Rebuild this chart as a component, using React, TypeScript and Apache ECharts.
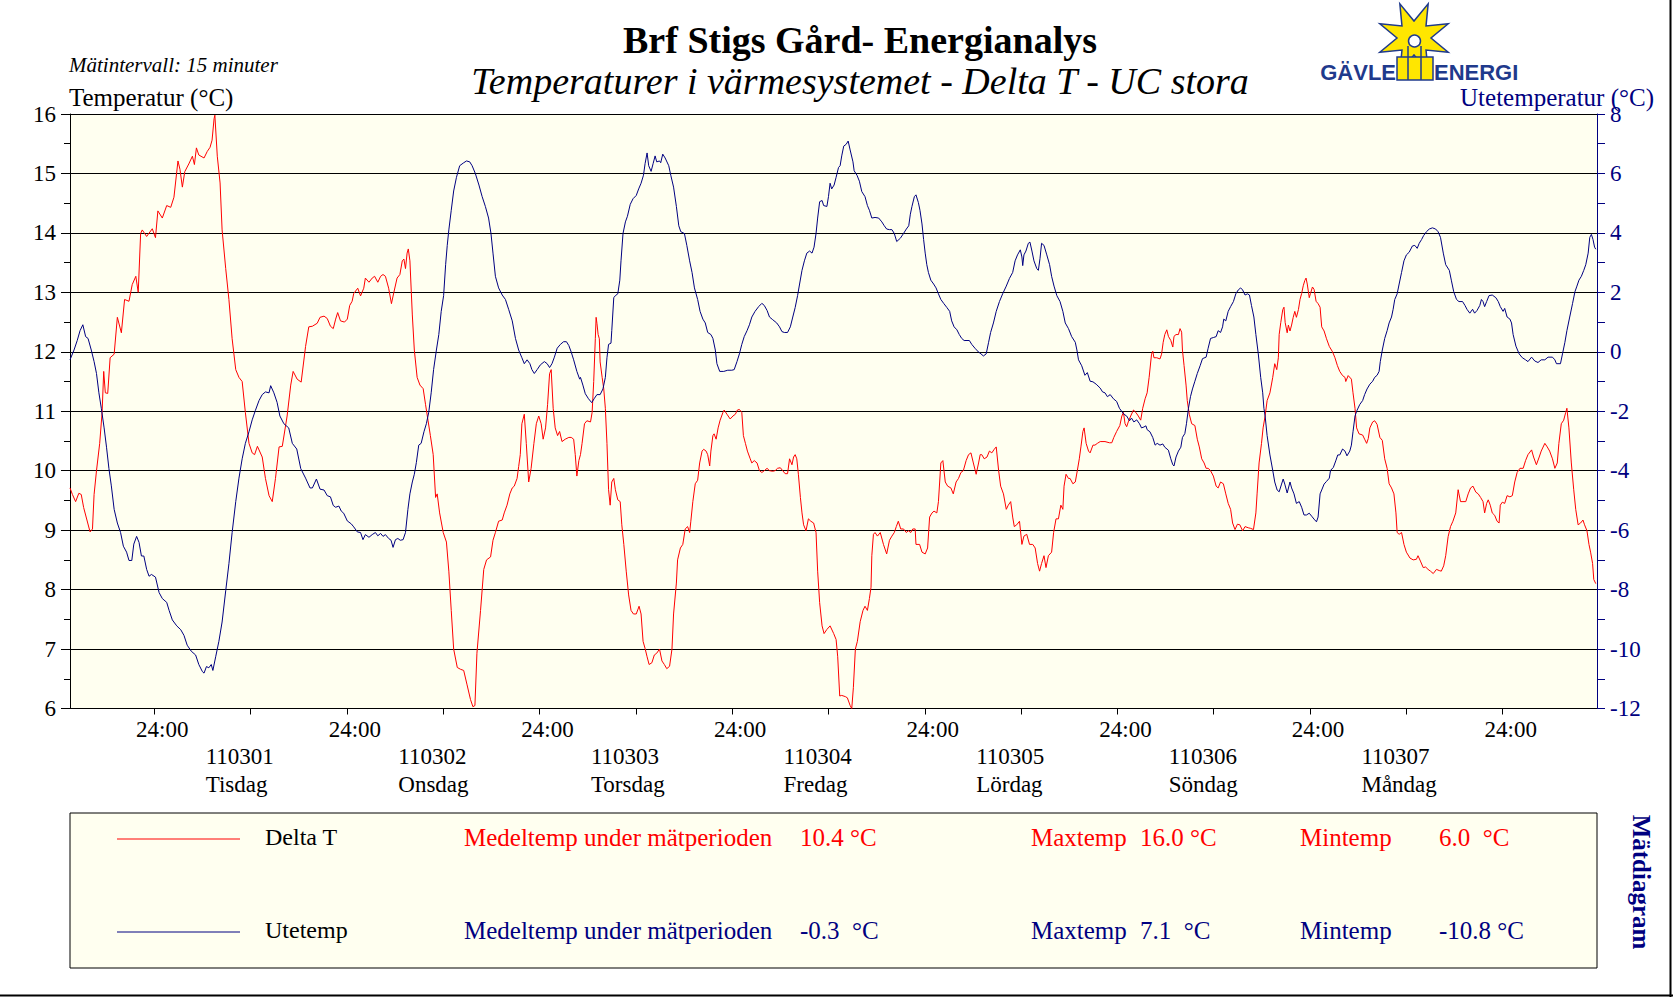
import React, { useEffect, useRef } from "react";
import * as echarts from "echarts";

// Time in hours relative to 110301 00:00 (the first "24:00" tick), value in °C
const deltaT: [number, number][] = [
  [-10.5,9.71],[-10.2,9.6],[-9.8,9.48],[-9.4,9.62],[-9.1,9.6],[-8.8,9.38],[-8.0,8.97],[-7.7,9.02],[-7.5,9.6],[-7.2,10.0],[-6.8,10.46],[-6.5,10.98],[-6.3,11.67],[-6.1,11.31],[-5.8,11.3],[-5.5,11.9],[-5.0,11.96],[-4.6,12.58],[-4.1,12.32],[-3.7,12.88],[-3.15,12.85],[-2.75,13.13],[-2.3,13.27],[-2.0,13.0],[-1.7,13.99],[-1.5,14.05],[-0.95,13.94],[-0.25,14.07],[0.15,13.92],[0.45,14.37],[1.0,14.25],[1.55,14.46],[2.05,14.43],[2.45,14.6],[2.95,15.21],[3.2,15.07],[3.5,14.77],[3.8,15.03],[4.3,15.16],[4.75,15.29],[5.0,15.15],[5.25,15.43],[5.55,15.31],[6.2,15.26],[6.6,15.37],[6.95,15.44],[7.2,15.56],[7.45,15.92],[7.55,15.98],[7.85,15.29],[8.2,14.84],[8.45,14.05],[8.9,13.4],[9.3,12.88],[9.7,12.22],[10.15,11.7],[10.55,11.57],[10.95,11.5],[11.35,10.98],[11.8,10.46],[12.2,10.3],[12.5,10.27],[12.85,10.41],[13.45,10.23],[13.85,9.87],[14.3,9.58],[14.7,9.48],[15.1,9.87],[15.55,10.4],[15.95,10.41],[16.55,10.92],[17.0,11.44],[17.3,11.67],[17.8,11.54],[18.3,11.49],[18.85,12.09],[19.25,12.42],[19.7,12.43],[20.3,12.48],[20.65,12.58],[21.15,12.6],[21.55,12.56],[21.95,12.43],
  [22.3,12.39],[22.6,12.55],[22.85,12.66],[23.2,12.52],[23.7,12.5],[24.05,12.55],[24.35,12.78],[24.65,12.85],[24.85,12.98],[25.35,13.07],[25.7,12.94],[26.1,13.07],[26.3,13.24],[26.75,13.17],[27.15,13.24],[27.45,13.27],[27.85,13.17],[28.2,13.27],[28.5,13.3],[28.8,13.27],[29.2,13.07],[29.55,12.81],[29.85,13.0],[30.25,13.24],[30.6,13.3],[30.9,13.53],[31.1,13.56],[31.3,13.4],[31.5,13.66],[31.65,13.73],[31.85,13.53],[32.15,12.62],[32.4,12.03],[32.75,11.57],[33.1,11.44],[33.5,11.38],[33.8,11.11],[34.1,10.85],[34.4,10.59],[34.75,10.27],[35.05,9.55],[35.25,9.61],[35.55,9.29],[36.0,8.96],[36.4,8.8],[36.7,8.31],[37.0,7.65],[37.3,7.0],[37.75,6.69],[38.15,6.66],[38.55,6.64],[38.95,6.41],[39.4,6.15],[39.7,6.03],[39.95,6.05],[40.2,6.93],[40.65,7.65],[41.05,8.34],[41.4,8.5],[41.9,8.55],[42.2,8.83],[42.5,8.96],[42.9,9.15],[43.35,9.17],[43.6,9.29],[43.95,9.42],[44.3,9.61],[44.6,9.71],[44.85,9.74],[45.2,9.87],[45.4,10.07],[45.6,10.27],[45.8,10.79],[46.1,10.95],[46.35,10.46],[46.65,9.81],[46.95,10.04],[47.3,10.46],[47.6,10.79],[47.9,10.92],[48.2,10.79],[48.45,10.53],[48.75,10.72],[49.0,11.11],[49.25,11.63],[49.45,11.7],[49.7,11.05],[49.95,10.72],[50.25,10.59],[50.5,10.66],[50.8,10.49],[51.2,10.53],[51.65,10.56],[51.95,10.56],[52.25,10.53],[52.45,10.27],[52.65,9.91],[52.9,10.17],
  [53.1,10.27],[53.3,10.46],[53.6,10.79],[53.9,10.84],[54.35,10.82],[54.55,10.98],[54.75,11.5],[54.95,12.22],[55.05,12.58],[55.15,12.48],[55.3,12.29],[55.45,12.22],[55.55,11.83],[55.8,11.57],[56.0,11.38],[56.2,11.05],[56.4,10.46],[56.6,9.68],[56.8,9.42],[57.0,9.81],[57.25,9.87],[57.45,9.68],[57.75,9.51],[58.05,9.48],[58.25,9.09],[58.5,8.76],[58.8,8.31],[59.1,7.91],[59.4,7.65],[59.7,7.59],[60.05,7.59],[60.4,7.72],[60.65,7.59],[60.9,7.13],[61.15,7.01],[61.4,6.87],[61.65,6.74],[62.0,6.77],[62.3,6.9],[62.6,6.93],[62.95,7.0],[63.25,6.8],[63.55,6.74],[63.85,6.67],[64.2,6.71],[64.5,7.0],[64.7,7.59],[65.05,8.11],[65.2,8.5],[65.55,8.7],[65.85,8.76],[66.15,9.02],[66.45,9.06],[66.7,8.96],[66.85,9.15],[67.1,9.48],[67.4,9.78],[67.7,9.84],[67.95,10.13],[68.25,10.33],[68.45,10.36],[68.75,10.33],[68.95,10.27],[69.2,10.08],[69.35,10.33],[69.6,10.59],[69.75,10.62],[70.0,10.53],[70.25,10.72],[70.5,10.85],[70.85,10.98],[71.0,11.02],[71.35,10.95],[71.75,10.87],[72.1,10.92],[72.4,10.95],[72.65,11.02],[72.9,11.03],[73.2,10.98],[73.4,10.59],[73.65,10.46],[73.9,10.33],[74.25,10.2],[74.45,10.13],[74.75,10.17],[75.1,10.13],[75.4,10.0],[75.7,9.97],[76.0,10.0],[76.35,10.04],[76.65,10.0],[77.05,9.99],[77.35,10.0],[77.65,10.04],[78.0,10.05],[78.3,10.0],[78.6,9.95],[78.9,9.95],[79.15,10.2],[79.45,10.1],[79.65,10.23],[79.85,10.27],[80.05,10.2],[80.25,9.94],[80.5,9.55],[80.7,9.29],[80.9,9.09],[81.2,8.99],[81.5,9.19],[81.8,9.15],[82.15,9.12],[82.45,8.96],[82.65,8.31],[82.9,7.78],[83.2,7.39],[83.45,7.26],[83.8,7.33],[84.2,7.39],[84.65,7.26],[84.95,7.16],[85.15,6.87],[85.4,6.21],
  [85.65,6.22],[86.1,6.2],[86.35,6.18],[86.7,6.05],[86.9,6.0],[87.1,6.35],[87.35,7.0],[87.6,7.13],[87.95,7.46],[88.3,7.65],[88.55,7.72],[88.85,7.65],[89.1,7.85],[89.3,8.04],[89.4,8.57],[89.6,8.93],[89.8,8.96],[90.1,8.9],[90.45,8.96],[90.85,8.76],[91.25,8.6],[91.6,8.83],[91.9,8.9],[92.2,8.96],[92.45,9.06],[92.7,9.15],[93.0,9.02],[93.35,9.02],[93.7,8.96],[93.95,8.99],[94.25,8.96],[94.5,9.02],[94.8,9.02],[94.9,8.76],[95.35,8.76],[95.65,8.63],[96.05,8.6],[96.35,8.7],[96.6,9.22],[96.9,9.29],[97.15,9.32],[97.5,9.29],[97.7,9.48],[98.0,10.13],[98.25,10.17],[98.55,9.81],[98.85,9.74],[99.25,9.71],[99.55,9.61],[99.9,9.81],[100.2,9.87],[100.5,9.97],[100.8,10.0],[101.15,10.17],[101.45,10.27],[101.75,10.3],[102.05,10.13],[102.4,9.94],[102.7,10.13],[102.9,10.27],[103.1,10.27],[103.4,10.2],[103.75,10.23],[104.05,10.33],[104.35,10.3],[104.65,10.36],[104.9,10.4],[105.2,10.0],[105.45,9.74],[105.8,9.61],[106.15,9.35],[106.4,9.42],[106.7,9.48],[106.95,9.22],[107.15,9.06],[107.45,9.09],[107.8,9.15],[108.1,8.76],[108.35,8.9],[108.7,8.93],[109.05,8.76],[109.45,8.76],[109.75,8.7],[110.05,8.44],[110.3,8.31],[110.55,8.44],[110.85,8.57],[111.1,8.37],[111.4,8.57],[111.8,8.63],[112.05,8.96],[112.35,9.19],[112.65,9.19],[112.95,9.42],[113.2,9.35],[113.35,9.74],[113.6,9.94],[113.9,9.87],[114.1,9.87],[114.45,9.78],[114.75,9.81],[115.0,10.0],[115.25,10.2],[115.45,10.4],[115.7,10.66],[115.85,10.72],[116.1,10.46],[116.4,10.33],[116.6,10.3],[116.95,10.43],[117.2,10.43],[117.5,10.46],
  [117.85,10.49],[118.45,10.49],[119.0,10.47],[119.3,10.47],[119.55,10.56],[119.9,10.66],[120.3,10.76],[120.55,10.92],[120.75,10.98],[120.95,10.79],[121.15,10.74],[121.35,10.82],[121.65,10.92],[122.0,11.02],[122.3,10.98],[122.6,10.92],[122.9,10.85],[123.15,11.05],[123.45,11.21],[123.7,11.31],[123.95,11.57],[124.25,11.96],[124.4,12.01],[124.55,11.9],[124.9,11.9],[125.3,11.88],[125.5,11.96],[125.7,12.16],[125.9,12.29],[126.15,12.37],[126.35,12.26],[126.65,12.19],[126.9,12.08],[127.05,12.26],[127.3,12.29],[127.6,12.29],[127.8,12.39],[128.0,12.33],[128.1,12.03],[128.3,11.77],[128.55,11.44],[128.7,11.18],[128.95,10.95],[129.25,10.79],[129.65,10.76],[129.95,10.53],[130.2,10.4],[130.5,10.2],[130.8,10.13],[131.05,10.04],[131.3,10.04],[131.6,10.0],[131.95,9.91],[132.3,9.74],[132.55,9.71],[132.85,9.81],[133.2,9.78],[133.5,9.61],[133.8,9.45],[134.1,9.35],[134.35,9.12],[134.65,9.01],[134.95,9.1],[135.25,9.09],[135.6,8.99],[135.9,9.06],[136.3,9.04],[136.6,9.03],[136.95,9.01],[137.25,9.29],[137.4,9.61],[137.65,10.13],[137.95,10.46],[138.15,10.72],[138.4,10.92],[138.65,11.18],[139.0,11.31],[139.35,11.57],[139.6,11.8],[139.85,11.7],[140.05,11.9],[140.15,12.29],[140.35,12.49],[140.6,12.71],[140.75,12.75],[140.9,12.49],[141.15,12.32],[141.3,12.45],[141.5,12.35],[141.7,12.45],[141.9,12.58],[142.1,12.68],[142.3,12.58],[142.55,12.71],[142.75,12.88],[142.95,12.98],[143.15,13.11],[143.35,13.2],[143.5,13.24],[143.65,13.14],[143.9,12.91],[144.05,12.98],[144.3,13.09],[144.5,13.05],[144.75,12.85],[145.0,12.81],[145.25,12.75],[145.45,12.42],[145.75,12.35],[146.05,12.22],[146.4,12.09],[146.8,12.0],[147.1,11.9],[147.4,11.77],
  [147.7,11.67],[148.05,11.6],[148.35,11.57],[148.45,11.5],[148.75,11.6],[149.15,11.54],[149.35,11.31],[149.6,11.05],[149.8,10.72],[150.1,10.62],[150.55,10.6],[150.8,10.53],[151.05,10.46],[151.25,10.54],[151.45,10.72],[151.8,10.82],[152.05,10.84],[152.35,10.78],[152.7,10.56],[153.0,10.51],[153.3,10.2],[153.6,10.04],[153.85,9.78],[154.15,9.71],[154.45,9.61],[154.7,9.29],[154.85,8.96],[155.1,8.93],[155.4,8.96],[155.7,8.76],[156.0,8.63],[156.45,8.53],[156.85,8.5],[157.25,8.51],[157.45,8.57],[157.75,8.48],[158.1,8.37],[158.4,8.38],[158.7,8.34],[159.0,8.31],[159.35,8.27],[159.75,8.34],[160.1,8.32],[160.35,8.31],[160.65,8.4],[160.9,8.57],[161.2,8.89],[161.5,9.06],[161.8,9.15],[162.15,9.29],[162.45,9.68],[162.55,9.61],[162.75,9.48],[163.05,9.48],[163.4,9.48],[163.7,9.61],[164.0,9.71],[164.3,9.74],[164.65,9.64],[164.95,9.61],[165.25,9.55],[165.55,9.48],[165.75,9.29],[166.0,9.45],[166.2,9.51],[166.45,9.42],[166.7,9.29],[167.0,9.25],[167.3,9.15],[167.55,9.12],[167.7,9.42],[167.95,9.47],[168.25,9.45],[168.55,9.58],[168.9,9.56],[169.2,9.58],[169.5,9.81],[169.8,9.97],[170.15,10.04],[170.55,10.04],[170.85,10.17],[171.15,10.27],[171.6,10.35],[171.85,10.23],[172.2,10.1],[172.55,10.23],[172.8,10.33],[173.25,10.46],[173.55,10.4],[173.85,10.33],[174.2,10.2],[174.5,10.04],[174.8,10.13],[175.0,10.46],[175.3,10.79],[175.6,10.85],[175.85,10.98],[176.0,11.05],[176.25,10.72],[176.55,10.13],[176.85,9.68],[177.1,9.35],[177.4,9.09],[177.7,9.12],[178.0,9.17],[178.2,9.09],[178.5,8.99],[178.75,8.76],[178.95,8.63],[179.2,8.44],[179.35,8.17],[179.6,8.1]
];

const utetemp: [number, number][] = [
  [-10.5,-0.27],[-10.0,0.06],[-9.6,0.38],[-9.25,0.71],[-8.9,0.91],[-8.55,0.51],[-8.25,0.45],[-7.85,0.06],[-7.5,-0.33],[-7.2,-0.73],[-6.9,-1.38],[-6.6,-1.9],[-6.25,-2.56],[-5.95,-3.21],[-5.65,-3.93],[-5.35,-4.51],[-5.0,-5.3],[-4.6,-5.76],[-4.2,-6.08],[-3.85,-6.54],[-3.45,-6.74],[-3.15,-7.02],[-2.8,-7.02],[-2.55,-6.47],[-2.2,-6.21],[-1.9,-6.41],[-1.6,-6.87],[-1.3,-6.87],[-0.95,-7.32],[-0.65,-7.55],[-0.35,-7.49],[0.15,-7.58],[0.6,-8.1],[1.0,-8.3],[1.55,-8.43],[1.85,-8.7],[2.25,-9.02],[2.8,-9.22],[3.3,-9.35],[3.7,-9.54],[4.1,-9.87],[4.6,-10.07],[5.15,-10.2],[5.55,-10.52],[6.0,-10.76],[6.2,-10.81],[6.5,-10.59],[6.8,-10.63],[7.1,-10.52],[7.3,-10.72],[7.65,-10.26],[8.05,-9.74],[8.45,-9.09],[8.9,-8.04],[9.3,-7.13],[9.7,-6.08],[10.15,-5.04],[10.55,-4.25],[10.95,-3.6],[11.35,-3.08],[11.8,-2.69],[12.2,-2.29],[12.6,-1.97],[13.05,-1.64],[13.45,-1.44],[13.85,-1.35],[14.3,-1.38],[14.5,-1.14],[14.9,-1.38],[15.3,-1.7],[15.65,-2.16],[16.15,-2.42],[16.75,-2.56],[17.2,-3.08],[17.75,-3.27],[18.25,-3.93],[18.85,-4.25],[19.4,-4.58],[19.7,-4.58],[20.2,-4.28],[20.65,-4.62],[21.15,-4.65],[21.55,-4.84],[21.95,-4.88],
  [22.3,-5.17],[22.6,-5.23],[23.0,-5.19],[23.3,-5.36],[23.6,-5.43],[24.05,-5.69],[24.55,-5.79],[24.85,-5.89],[25.3,-6.06],[25.7,-6.08],[26.0,-6.32],[26.3,-6.15],[26.75,-6.24],[27.15,-6.15],[27.55,-6.08],[27.85,-6.19],[28.2,-6.11],[28.5,-6.21],[28.8,-6.15],[29.2,-6.28],[29.5,-6.34],[29.75,-6.58],[30.05,-6.32],[30.35,-6.28],[30.65,-6.34],[31.0,-6.32],[31.3,-6.08],[31.6,-5.3],[31.85,-4.78],[32.15,-4.38],[32.4,-4.12],[32.65,-3.73],[32.95,-3.14],[33.25,-3.08],[33.6,-2.69],[33.9,-2.42],[34.2,-2.03],[34.5,-1.38],[34.8,-0.6],[35.15,0.06],[35.45,0.58],[35.75,1.36],[36.05,1.89],[36.3,2.93],[36.5,3.58],[36.7,4.1],[37.0,4.76],[37.3,5.41],[37.65,5.87],[38.05,6.26],[38.5,6.35],[38.9,6.42],[39.3,6.39],[39.6,6.26],[40.0,6.0],[40.45,5.61],[40.85,5.22],[41.25,4.89],[41.65,4.5],[41.95,3.98],[42.2,3.32],[42.5,2.54],[42.9,2.15],[43.35,1.91],[43.75,1.76],[44.15,1.43],[44.6,1.04],[45.0,0.45],[45.4,0.06],[45.8,-0.2],[46.1,-0.4],[46.45,-0.27],[46.8,-0.4],[47.05,-0.6],[47.35,-0.73],[47.7,-0.6],[48.1,-0.44],[48.6,-0.33],[48.95,-0.4],[49.25,-0.53],[49.55,-0.4],[49.85,-0.18],[50.2,0.12],[50.6,0.25],[51.0,0.34],[51.35,0.34],[51.65,0.21],[51.95,-0.01],[52.25,-0.27],[52.65,-0.66],[53.0,-0.92],
  [53.1,-0.86],[53.4,-1.12],[53.7,-1.41],[54.1,-1.58],[54.5,-1.71],[54.8,-1.58],[55.15,-1.44],[55.55,-1.44],[55.9,-1.25],[56.2,-0.86],[56.4,-0.2],[56.6,0.25],[56.9,0.29],[57.0,0.71],[57.25,1.82],[57.45,1.89],[57.75,1.95],[58.0,2.41],[58.15,3.06],[58.4,3.98],[58.7,4.37],[58.95,4.56],[59.3,4.96],[59.65,5.15],[60.05,5.26],[60.35,5.48],[60.65,5.67],[60.95,5.94],[61.15,6.33],[61.4,6.69],[61.6,6.26],[61.9,6.07],[62.15,6.33],[62.4,6.59],[62.6,6.39],[62.95,6.42],[63.1,6.36],[63.35,6.65],[63.65,6.52],[64.1,6.26],[64.35,5.94],[64.7,5.54],[65.05,4.89],[65.35,4.24],[65.6,4.04],[66.05,3.98],[66.35,3.58],[66.7,3.06],[67.0,2.67],[67.3,2.15],[67.7,1.76],[68.0,1.36],[68.35,1.1],[68.65,0.97],[68.95,0.65],[69.35,0.58],[69.6,0.45],[69.9,0.06],[70.1,-0.4],[70.45,-0.66],[70.95,-0.66],[71.45,-0.62],[71.95,-0.62],[72.25,-0.6],[72.6,-0.33],[72.9,-0.07],[73.2,0.25],[73.5,0.51],[73.85,0.71],[74.15,0.91],[74.45,1.17],[74.85,1.36],[75.3,1.52],[75.7,1.63],[76.0,1.56],[76.35,1.39],[76.65,1.17],[77.05,1.08],[77.55,0.97],[77.9,0.84],[78.2,0.68],[78.5,0.65],[78.9,0.65],[79.25,0.84],[79.55,1.17],[79.85,1.49],[80.15,1.89],[80.4,2.28],[80.7,2.74],[81.0,3.06],[81.3,3.32],[81.65,3.39],[81.95,3.32],[82.2,3.52],[82.45,3.98],[82.65,4.5],[82.9,5.05],[83.2,5.09],[83.4,4.92],[83.8,4.89],[84.0,5.22],[84.2,5.67],[84.4,5.48],[84.7,5.61],[84.95,5.87],[85.25,6.2],
  [85.45,6.26],[85.65,6.59],[85.9,6.92],[86.2,6.98],[86.45,7.09],[86.7,6.79],[87.05,6.39],[87.2,6.09],[87.55,5.94],[87.85,5.74],[88.15,5.39],[88.55,5.22],[88.85,4.92],[89.1,4.76],[89.4,4.5],[89.8,4.52],[90.25,4.5],[90.65,4.37],[90.95,4.24],[91.25,4.13],[91.6,4.11],[91.9,4.11],[92.2,3.98],[92.5,3.71],[92.95,3.82],[93.35,3.98],[93.7,4.13],[94.0,4.24],[94.2,4.63],[94.4,4.89],[94.7,5.22],[94.9,5.28],[95.2,5.02],[95.4,4.76],[95.65,4.3],[95.85,3.78],[96.05,3.32],[96.25,2.93],[96.45,2.67],[96.75,2.41],[97.1,2.28],[97.4,2.15],[97.7,1.95],[98.0,1.76],[98.35,1.63],[98.75,1.49],[99.1,1.36],[99.35,1.04],[99.65,0.84],[100.0,0.74],[100.3,0.58],[100.6,0.45],[100.9,0.38],[101.55,0.38],[101.85,0.25],[102.25,0.12],[102.7,-0.01],[103.0,-0.07],[103.3,-0.14],[103.65,-0.07],[103.95,0.32],[104.2,0.65],[104.55,0.97],[104.9,1.36],[105.3,1.69],[105.7,1.95],[106.15,2.21],[106.55,2.47],[106.95,2.67],[107.25,3.06],[107.55,3.26],[107.9,3.43],[108.1,3.19],[108.2,2.9],[108.35,3.26],[108.6,3.39],[108.9,3.65],[109.1,3.69],[109.35,3.39],[109.6,3.06],[109.95,2.8],[110.15,2.74],[110.35,3.13],[110.55,3.65],[110.85,3.58],[111.2,3.26],[111.55,2.93],[111.8,2.54],[112.1,2.21],[112.45,1.89],[112.85,1.69],[113.2,1.36],[113.5,0.97],[113.9,0.78],[114.3,0.51],[114.75,0.32],[114.95,0.06],[115.15,-0.27],[115.55,-0.47],[115.95,-0.79],[116.25,-0.7],[116.6,-0.99],[116.95,-1.01],[117.35,-1.09],
  [117.85,-1.22],[118.15,-1.35],[118.45,-1.38],[118.75,-1.51],[119.1,-1.44],[119.5,-1.58],[119.9,-1.67],[120.25,-1.9],[120.55,-2.01],[120.8,-2.1],[121.15,-2.16],[121.5,-2.32],[121.75,-2.23],[122.05,-2.36],[122.4,-2.29],[122.75,-2.42],[123.0,-2.56],[123.3,-2.53],[123.55,-2.49],[123.7,-2.62],[124.05,-2.69],[124.4,-2.88],[124.7,-3.14],[124.95,-3.08],[125.3,-3.14],[125.65,-3.1],[125.9,-3.21],[126.35,-3.31],[126.65,-3.6],[126.9,-3.8],[127.05,-3.84],[127.3,-3.54],[127.6,-3.34],[127.9,-3.21],[128.1,-2.88],[128.4,-2.75],[128.6,-2.42],[128.85,-1.9],[129.1,-1.51],[129.35,-1.25],[129.65,-0.99],[129.95,-0.73],[130.3,-0.47],[130.6,-0.23],[131.05,-0.18],[131.3,0.12],[131.6,0.45],[131.95,0.48],[132.3,0.51],[132.55,0.71],[132.85,0.65],[133.1,0.84],[133.25,1.1],[133.5,1.04],[133.8,1.36],[134.1,1.52],[134.45,1.69],[134.75,1.95],[135.05,2.08],[135.35,2.15],[135.6,2.08],[135.9,1.91],[136.2,1.95],[136.45,1.91],[136.7,1.56],[137.0,1.17],[137.25,0.58],[137.55,-0.07],[137.85,-0.86],[138.1,-1.38],[138.25,-1.9],[138.4,-2.16],[138.65,-2.82],[139.0,-3.47],[139.35,-3.99],[139.6,-4.38],[139.9,-4.65],[140.15,-4.71],[140.45,-4.45],[140.65,-4.28],[140.85,-4.45],[141.15,-4.75],[141.5,-4.38],[141.7,-4.58],[142.0,-4.78],[142.3,-5.1],[142.65,-5.04],[142.95,-5.23],[143.25,-5.49],[143.55,-5.49],[143.9,-5.43],[144.2,-5.53],[144.5,-5.63],[144.8,-5.72],[145.0,-5.56],[145.25,-4.78],[145.45,-4.65],[145.75,-4.45],[146.05,-4.36],[146.4,-4.25],[146.55,-3.99],[146.9,-3.89],[147.2,-3.67],[147.45,-3.47],
  [147.7,-3.47],[148.05,-3.27],[148.35,-3.34],[148.6,-3.5],[148.95,-3.34],[149.15,-3.14],[149.35,-2.69],[149.6,-2.16],[149.85,-1.97],[150.2,-1.77],[150.55,-1.64],[150.8,-1.44],[151.1,-1.25],[151.45,-1.09],[151.8,-0.99],[152.05,-0.86],[152.35,-0.79],[152.6,-0.66],[152.75,-0.33],[153.0,0.06],[153.3,0.45],[153.6,0.71],[153.85,0.97],[154.15,1.17],[154.35,1.43],[154.55,1.76],[154.85,1.95],[155.1,2.28],[155.4,2.67],[155.7,3.06],[156.0,3.26],[156.35,3.35],[156.75,3.56],[157.05,3.58],[157.35,3.48],[157.6,3.65],[157.9,3.78],[158.15,3.91],[158.5,4.04],[158.85,4.13],[159.25,4.17],[159.65,4.13],[159.95,4.04],[160.25,3.85],[160.6,3.32],[160.9,2.93],[161.35,2.74],[161.6,2.41],[161.9,2.02],[162.25,1.76],[162.55,1.69],[163.0,1.69],[163.3,1.56],[163.55,1.43],[163.9,1.3],[164.25,1.43],[164.5,1.3],[164.8,1.39],[165.15,1.56],[165.35,1.76],[165.55,1.69],[165.75,1.52],[166.0,1.69],[166.3,1.89],[166.7,1.91],[167.15,1.82],[167.45,1.69],[167.7,1.52],[168.05,1.36],[168.25,1.46],[168.55,1.17],[168.9,1.1],[169.1,0.97],[169.3,0.58],[169.65,0.19],[170.05,-0.07],[170.45,-0.2],[170.85,-0.27],[171.15,-0.33],[171.6,-0.18],[172.0,-0.31],[172.4,-0.36],[172.8,-0.27],[173.25,-0.27],[173.65,-0.18],[174.2,-0.18],[174.5,-0.27],[174.7,-0.4],[175.2,-0.4],[175.45,-0.07],[175.75,0.32],[176.0,0.71],[176.35,1.17],[176.7,1.62],[177.0,2.02],[177.25,2.21],[177.5,2.41],[177.8,2.54],[178.1,2.74],[178.35,2.93],[178.65,3.32],[178.85,3.85],[179.05,3.95],[179.25,3.78],[179.45,3.52],[179.6,3.45]
];

const timeMin = -10.5;
const timeMax = 179.75;
const tickHours = [0, 12, 24, 36, 48, 60, 72, 84, 96, 108, 120, 132, 144, 156, 168];
const midnightHours = [0, 24, 48, 72, 96, 120, 144, 168];
const midnightLabel = "24:00";
const dateLabelHours = [6.4, 30.4, 54.4, 78.4, 102.4, 126.4, 150.4];
const dateCodes = ["110301", "110302", "110303", "110304", "110305", "110306", "110307"];
const dayNames = ["Tisdag", "Onsdag", "Torsdag", "Fredag", "Lördag", "Söndag", "Måndag"];

const seriesNames = ["Delta T", "Utetemp"];
const meanLabel = "Medeltemp under mätperioden";
const meanValues = ["10.4 °C", "-0.3  °C"];
const maxValues = ["16.0 °C", "7.1  °C"];
const minValues = ["6.0  °C", "-10.8 °C"];

const SERIF = "'Liberation Serif', 'Times New Roman', serif";
const RED = "#FF0000";
const NAVY = "#000080";
const IVORY = "#FFFFF0";

function starPoints(cx: number, cy: number, R: number, r: number, n: number, rot: number) {
  const pts: number[][] = [];
  for (let i = 0; i < n * 2; i++) {
    const a = rot + (i * Math.PI) / n;
    const rad = i % 2 === 0 ? R : r;
    pts.push([cx + rad * Math.sin(a), cy - rad * Math.cos(a)]);
  }
  return pts;
}

function legendRow(i: number, y: number, color: string) {
  const f = `25px ${SERIF}`;
  return [
    { type: "line", shape: { x1: 117, y1: y + 2, x2: 240, y2: y + 2 }, style: { stroke: color, lineWidth: 1 } },
    { type: "text", x: 265, y, style: { text: seriesNames[i], fill: "#000", font: `24px ${SERIF}`, textAlign: "left", textVerticalAlign: "middle" } },
    { type: "text", x: 464, y, style: { text: meanLabel, fill: color, font: f, textAlign: "left", textVerticalAlign: "middle" } },
    { type: "text", x: 800, y, style: { text: meanValues[i], fill: color, font: f, textAlign: "left", textVerticalAlign: "middle" } },
    { type: "text", x: 1031, y, style: { text: "Maxtemp", fill: color, font: f, textAlign: "left", textVerticalAlign: "middle" } },
    { type: "text", x: 1140, y, style: { text: maxValues[i], fill: color, font: f, textAlign: "left", textVerticalAlign: "middle" } },
    { type: "text", x: 1300, y, style: { text: "Mintemp", fill: color, font: f, textAlign: "left", textVerticalAlign: "middle" } },
    { type: "text", x: 1439, y, style: { text: minValues[i], fill: color, font: f, textAlign: "left", textVerticalAlign: "middle" } },
  ];
}

export default function App() {
  const ref = useRef<HTMLDivElement>(null);
  useEffect(() => {
    const chart = echarts.init(ref.current!, null, { renderer: "svg" });
    const logoBlue = "#1F3A8C";
    const logoYellow = "#FFE600";
    const option: any = {
      animation: false,
      backgroundColor: "#FFFFFF",
      grid: {
        left: 70, top: 114, width: 1527, height: 594.5,
        show: true, backgroundColor: IVORY, borderWidth: 0,
        containLabel: false, outerBoundsMode: "none",
      },
      xAxis: [
        {
          type: "value", min: timeMin, max: timeMax, position: "bottom",
          axisLine: { show: true, onZero: false, lineStyle: { color: "#000", width: 1 } },
          axisTick: { show: true, customValues: tickHours, length: 6, lineStyle: { color: "#000" } },
          axisLabel: {
            customValues: midnightHours, formatter: () => midnightLabel,
            color: "#000", fontFamily: SERIF, fontSize: 23, lineHeight: 23, margin: 9,
            padding: [0, 0, 0, 16],
          },
          splitLine: { show: false },
        },
        {
          type: "value", min: timeMin, max: timeMax, position: "bottom", gridIndex: 0,
          axisLine: { show: false, onZero: false },
          axisTick: { show: false },
          axisLabel: {
            customValues: dateLabelHours,
            formatter: (v: number) => {
              let best = 0;
              for (let i = 0; i < dateLabelHours.length; i++) {
                if (Math.abs(dateLabelHours[i] - v) < Math.abs(dateLabelHours[best] - v)) best = i;
              }
              return dateCodes[best] + "\n" + dayNames[best];
            },
            align: "left", color: "#000", fontFamily: SERIF, fontSize: 23, lineHeight: 28, margin: 34,
          },
          splitLine: { show: false },
        },
      ],
      yAxis: [
        {
          type: "value", min: 6, max: 16, interval: 1, position: "left",
          axisLine: { show: true, onZero: false, lineStyle: { color: "#000", width: 1 } },
          axisTick: { show: true, length: 9, lineStyle: { color: "#000" } },
          minorTick: { show: true, splitNumber: 2, length: 6, lineStyle: { color: "#000" } },
          axisLabel: { color: "#000", fontFamily: SERIF, fontSize: 23, margin: 14, padding: [0, 0, 9, 0] },
          splitLine: { show: true, lineStyle: { color: "#000", width: 1 } },
        },
        {
          type: "value", min: -12, max: 8, interval: 2, position: "right",
          axisLine: { show: true, onZero: false, lineStyle: { color: NAVY, width: 1 } },
          axisTick: { show: true, length: 8, lineStyle: { color: NAVY } },
          minorTick: { show: true, splitNumber: 2, length: 8, lineStyle: { color: NAVY } },
          axisLabel: { color: NAVY, fontFamily: SERIF, fontSize: 23, margin: 13, padding: [0, 0, 9, 0] },
          splitLine: { show: false },
        },
      ],
      series: [
        {
          name: seriesNames[0], type: "line", xAxisIndex: 0, yAxisIndex: 0, data: deltaT,
          showSymbol: false, symbol: "none", color: RED,
          lineStyle: { color: RED, width: 1 },
        },
        {
          name: seriesNames[1], type: "line", xAxisIndex: 0, yAxisIndex: 1, data: utetemp,
          showSymbol: false, symbol: "none", color: NAVY,
          lineStyle: { color: NAVY, width: 1 },
        },
      ],
      graphic: [
        { type: "text", x: 860, y: 40, style: { text: "Brf Stigs Gård- Energianalys", fill: "#000", font: `bold 38px ${SERIF}`, textAlign: "center", textVerticalAlign: "middle" } },
        { type: "text", x: 860, y: 81, style: { text: "Temperaturer i värmesystemet - Delta T - UC stora", fill: "#000", font: `italic 38px ${SERIF}`, textAlign: "center", textVerticalAlign: "middle" } },
        { type: "text", x: 69, y: 65, style: { text: "Mätintervall: 15 minuter", fill: "#000", font: `italic 21px ${SERIF}`, textAlign: "left", textVerticalAlign: "middle" } },
        { type: "text", x: 69, y: 97, style: { text: "Temperatur (°C)", fill: "#000", font: `25px ${SERIF}`, textAlign: "left", textVerticalAlign: "middle" } },
        { type: "text", x: 1654, y: 97, style: { text: "Utetemperatur (°C)", fill: NAVY, font: `25px ${SERIF}`, textAlign: "right", textVerticalAlign: "middle" } },
        // logo
        { type: "polygon", shape: { points: starPoints(1414, 38, 37, 17, 8, Math.PI / 8) }, style: { fill: logoYellow, stroke: logoBlue, lineWidth: 1.5 } },
        { type: "rect", shape: { x: 1397, y: 57, width: 36, height: 23 }, style: { fill: logoYellow, stroke: logoBlue, lineWidth: 1.5 } },
        { type: "line", shape: { x1: 1408, y1: 46, x2: 1408, y2: 80 }, style: { stroke: logoBlue, lineWidth: 1.5 } },
        { type: "line", shape: { x1: 1421, y1: 46, x2: 1421, y2: 80 }, style: { stroke: logoBlue, lineWidth: 1.5 } },
        { type: "circle", shape: { cx: 1414.5, cy: 41, r: 6 }, style: { fill: "#FFFFFF", stroke: logoBlue, lineWidth: 1.5 } },
        { type: "text", x: 1396, y: 72, style: { text: "GÄVLE", fill: logoBlue, font: `bold 22px 'Liberation Sans', Arial, sans-serif`, textAlign: "right", textVerticalAlign: "middle" } },
        { type: "text", x: 1434, y: 72, style: { text: "ENERGI", fill: logoBlue, font: `bold 22px 'Liberation Sans', Arial, sans-serif`, textAlign: "left", textVerticalAlign: "middle" } },
        // legend box
        { type: "rect", shape: { x: 70, y: 813, width: 1527, height: 155 }, style: { fill: IVORY, stroke: "#000", lineWidth: 1 } },
        ...legendRow(0, 837, RED),
        ...legendRow(1, 930, NAVY),
        { type: "text", x: 1641, y: 882, rotation: -Math.PI / 2, style: { text: "Mätdiagram", fill: NAVY, font: `bold 25px ${SERIF}`, textAlign: "center", textVerticalAlign: "middle" } },
        // frame edges
        { type: "line", shape: { x1: 0, y1: 995.5, x2: 1673, y2: 995.5 }, style: { stroke: "#000", lineWidth: 2 } },
        { type: "line", shape: { x1: 1670.5, y1: 0, x2: 1670.5, y2: 997 }, style: { stroke: "#000", lineWidth: 2 } },
      ],
    };
    chart.setOption(option);
    return () => chart.dispose();
  }, []);
  return (
    <div
      ref={ref}
      style={{ position: "absolute", left: 0, top: 0, width: 1673, height: 997, background: "#fff" }}
    />
  );
}
